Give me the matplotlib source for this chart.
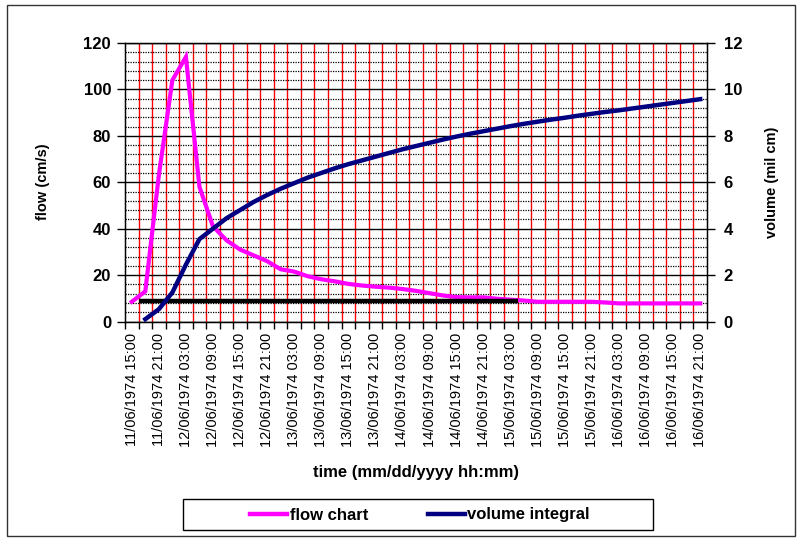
import numpy as np
import pandas as pd
import matplotlib
matplotlib.use("Agg")
import matplotlib.pyplot as plt
from matplotlib.patches import Rectangle
from matplotlib.lines import Line2D

plt.rcParams['font.family'] = ['Liberation Sans', 'DejaVu Sans']

# categorias cada 3 horas
times = pd.date_range("1974-06-11 15:00", "1974-06-16 21:00", freq="3h")
tick_labels = [t.strftime("%d/%m/%Y %H:%M") for t in times]

# caudal (cm/s)
flow = [8.5, 13, 63, 104, 114, 58, 41, 35, 31, 28.5,
        26, 22.5, 21.5, 19.5, 18.2, 17.3, 16.2, 15.5, 15, 14.6,
        14, 13.2, 12.2, 11.2, 10.5, 10.4, 10.4, 9.8, 9.4, 9.0,
        8.5, 8.5, 8.5, 8.5, 8.5, 8.2, 7.8, 7.8, 7.8, 7.8,
        7.8, 7.8, 7.8]

# volumen integrado (mil cm), sin valor en la primera categoria
volume = [np.nan, 0.1, 0.53, 1.25, 2.45, 3.55, 4.0, 4.45, 4.8, 5.15,
          5.45, 5.72, 5.96, 6.2, 6.4, 6.6, 6.78, 6.94, 7.1, 7.26,
          7.42, 7.56, 7.7, 7.84, 7.97, 8.09, 8.2, 8.31, 8.42, 8.52,
          8.61, 8.7, 8.78, 8.87, 8.95, 9.03, 9.1, 9.18, 9.26, 9.34,
          9.42, 9.5, 9.58]

# linea base negra
base_flow = 9.0
base_from = 0.5
base_to = 28.5

x = np.arange(len(times))

fig = plt.figure(figsize=(8.01, 5.41), dpi=100)
ax = fig.add_axes([125/801, 1-321.5/541, (707-125)/801, (321.5-43)/541])
ax2 = ax.twinx()

# grilla
ax.set_xlim(-0.5, len(times) - 0.5)
ax.set_ylim(0, 120)
ax.set_yticks(np.arange(0, 121, 20))
ax.set_yticks([v for v in range(0, 121, 4) if v % 20 != 0], minor=True)
ax.set_xticks(x[::2])
ax.set_xticks(np.arange(-0.5, len(times), 1), minor=True)
ax.grid(True, which="major", axis="y", color="black", lw=1)
ax.grid(True, which="minor", axis="y", color="black", lw=0.9, linestyle=(0, (1, 1)))
for b in np.arange(0.5, len(times) - 1, 1):
    ax.axvline(b, color="red", lw=1, zorder=0.5)
ax.set_axisbelow(True)

ax.plot(x, flow, color="#FF00FF", lw=3, solid_joinstyle="miter", zorder=3)
ax.hlines(base_flow, base_from, base_to, color="black", lw=3.2, zorder=4)
ax2.plot(x, volume, color="#000080", lw=3.2, zorder=3)

ax2.set_ylim(0, 12)
ax2.set_yticks(np.arange(0, 13, 2))

ax.set_xticklabels(tick_labels[::2], rotation=90, fontsize=10.5)
ax.tick_params(axis="x", which="major", length=0, pad=8)
ax.tick_params(axis="x", which="minor", length=5, direction="out", width=1)
ax.tick_params(axis="y", which="major", length=6, direction="out", width=1, labelsize=12, pad=4)
ax.tick_params(axis="y", which="minor", length=0)
ax2.tick_params(axis="y", length=6, direction="out", width=1, labelsize=12, pad=6)
for lab in ax.get_yticklabels() + ax2.get_yticklabels():
    lab.set_fontweight("bold")
for s in ax.spines.values():
    s.set_color("black")
    s.set_linewidth(1)

fig.text(43/801, 1-182/541, "flow (cm/s)", rotation=90, ha="center", va="center",
         fontsize=10.5, fontweight="bold")
fig.text(772/801, 1-182/541, "volume (mil cm)", rotation=90, ha="center", va="center",
         fontsize=10.5, fontweight="bold")
fig.text(416/801, 1-472/541, "time (mm/dd/yyyy hh:mm)", ha="center", va="center",
         fontsize=12, fontweight="bold")

# marco de la leyenda y del grafico
fig.patches.append(Rectangle((183/801, 1-530/541), (653-183)/801, (530-499)/541,
                             transform=fig.transFigure, fill=False, ec="black", lw=1))
fig.patches.append(Rectangle((7/801, 1-536/541), (795-7)/801, (536-5)/541,
                             transform=fig.transFigure, fill=False, ec="#333333", lw=1))

handles = [Line2D([], [], color="#FF00FF", lw=3.2), Line2D([], [], color="#000080", lw=3.2)]
fig.legend(handles, ["flow chart", "volume integral"], loc="center",
           bbox_to_anchor=(420/801, 1-515/541), ncol=2, frameon=False,
           prop={"weight": "bold", "size": 12}, handlelength=2.2,
           handletextpad=0.15, columnspacing=3.6)

plt.savefig("out.png", dpi=100)
